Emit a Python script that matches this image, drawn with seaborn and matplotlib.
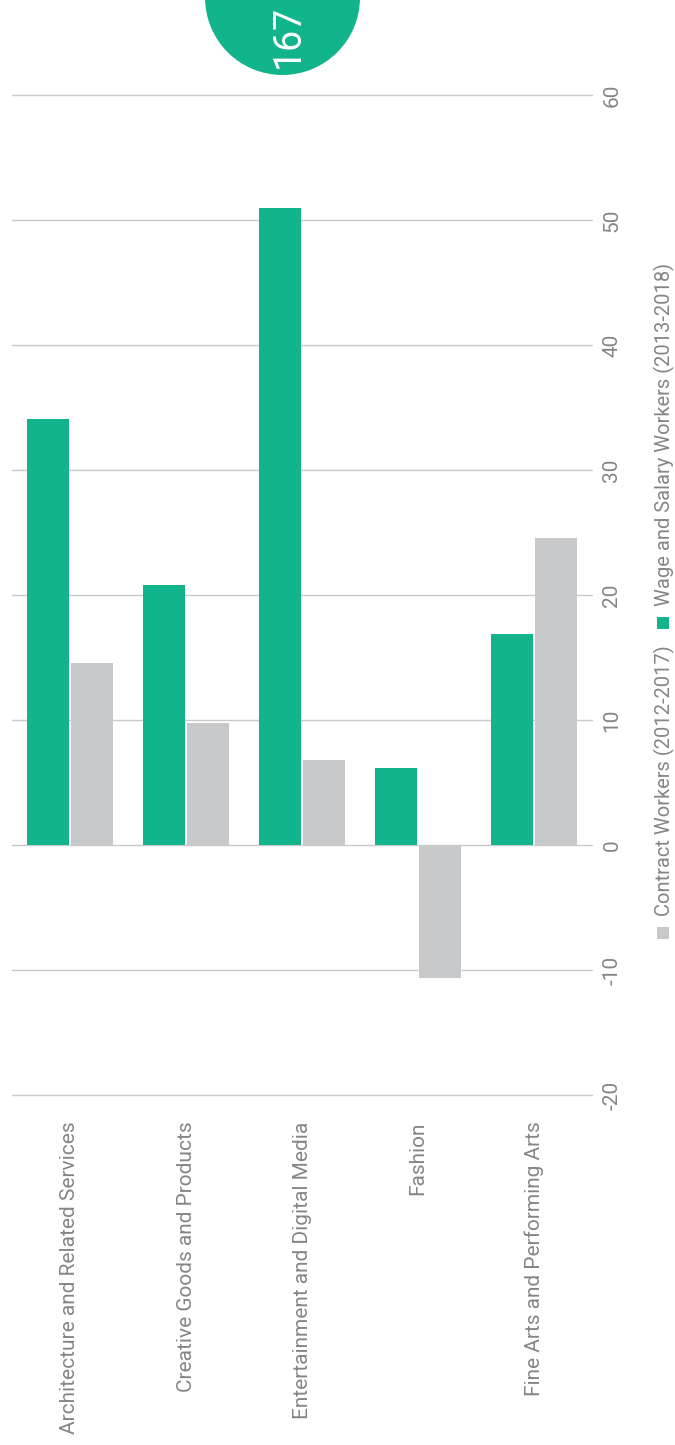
import matplotlib
matplotlib.use("Agg")
import matplotlib.pyplot as plt
from matplotlib.patches import Ellipse, Rectangle
import seaborn as sns
import pandas as pd

categories = [
    "Architecture and Related Services",
    "Creative Goods and Products",
    "Entertainment and Digital Media",
    "Fashion",
    "Fine Arts and Performing Arts",
]
wage_salary = [34.1, 20.8, 51.0, 6.2, 16.9]
contract = [14.6, 9.8, 6.8, -10.6, 24.6]
series_names = ["Wage and Salary Workers (2013-2018)", "Contract Workers (2012-2017)"]
y_ticks = [-20, -10, 0, 10, 20, 30, 40, 50, 60]
page_number = "167"

GREEN = "#12B48B"
GRAY = "#C8C9CB"
TEXT = "#858585"
GRID = "#CACACA"

sns.set_theme(style="white")
plt.rcParams["font.family"] = ["Roboto", "DejaVu Sans"]
plt.rcParams["axes.unicode_minus"] = False

df = pd.DataFrame({
    "category": categories * 2,
    "value": wage_salary + contract,
    "series": [series_names[0]] * len(categories) + [series_names[1]] * len(categories),
})

W, H = 675, 1445
fig = plt.figure(figsize=(W / 100, H / 100), dpi=100)
ax = fig.add_axes([12 / W, 1 - 1095 / H, (592 - 12) / W, (1095 - 95) / H])

sns.barplot(data=df, x="category", y="value", hue="series", hue_order=series_names,
            palette=[GREEN, GRAY], width=0.767, gap=0.056, ax=ax, legend=False,
            saturation=1, linewidth=0, zorder=3)

ax.set_xlim(-0.5, 4.5)
ax.set_ylim(-20, 60)
ax.set_yticks(y_ticks)
ax.yaxis.tick_right()
ax.grid(axis="y", color=GRID, lw=1, zorder=0)
ax.set_axisbelow(True)
for gl in ax.get_ygridlines():
    gl.set_clip_on(False)
sns.despine(ax=ax, left=True, bottom=True, right=True, top=True)
ax.tick_params(axis="y", length=0, pad=7.5, labelsize=15, labelcolor=TEXT)
ax.tick_params(axis="x", length=0, pad=19, labelsize=15, labelcolor=TEXT)
for t in ax.get_yticklabels():
    t.set_rotation(90)
    t.set_va("center")
for t in ax.get_xticklabels():
    t.set_rotation(90)
    t.set_ha("center")
    t.set_va("top")
ax.set_xlabel("")
ax.set_ylabel("")

# rotated legend on the right
for sq_y, txt_y, col, name in [(933, 916, GRAY, series_names[1]),
                                (623, 606, GREEN, series_names[0])]:
    fig.add_artist(Rectangle((657 / W, 1 - (sq_y + 6) / H), 12 / W, 12 / H,
                             transform=fig.transFigure, color=col, lw=0))
    fig.text(664 / W, 1 - txt_y / H, name, rotation=90, color=TEXT, fontsize=14.5,
             ha="center", va="bottom")

# page badge
fig.add_artist(Ellipse((282.5 / W, 1 + 2.5 / H), 155 / W, 155 / H,
                       transform=fig.transFigure, color=GREEN, lw=0))
fig.text(288 / W, 1 - 36 / H, page_number, rotation=90, color="white", fontsize=27,
         ha="center", va="center")

fig.savefig("out.png", dpi=100)
